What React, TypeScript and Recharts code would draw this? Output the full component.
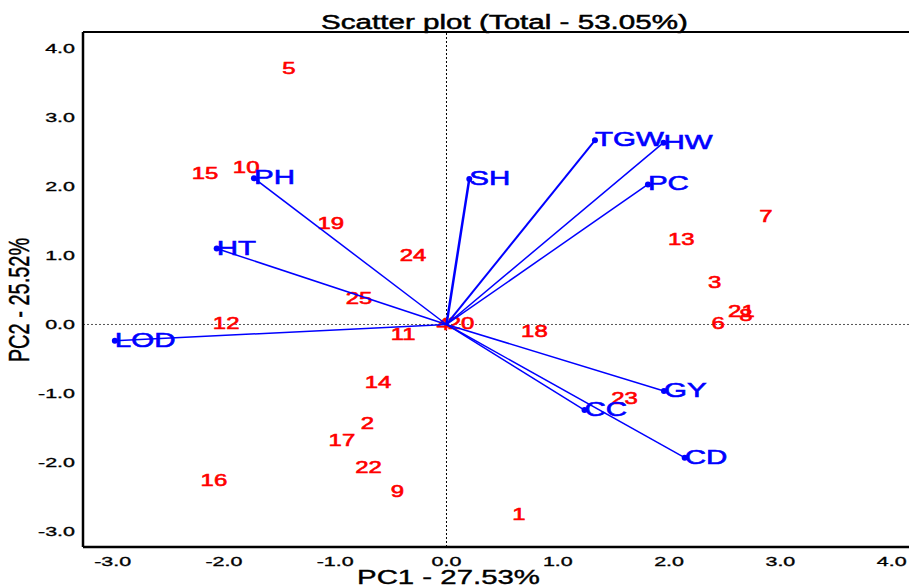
import React from 'react';
import { ScatterChart, Scatter, XAxis, YAxis, ReferenceLine } from 'recharts';

// ---- data ----
const genotypeNames = ['1','2','3','4','5','6','7','8','9','10','11','12','13','14','15','16','17','18','19','20','21','22','23','24','25'];
const genotypePC1 = [0.65,-0.71,2.41,-0.03,-1.415,2.44,2.87,2.69,-0.44,-1.80,-0.39,-1.98,2.11,-0.615,-2.17,-2.09,-0.94,0.79,-1.04,0.13,2.65,-0.70,1.60,-0.30,-0.786];
const genotypePC2 = [-2.74,-1.43,0.61,0.0,3.72,0.02,1.57,0.14,-2.41,2.28,-0.14,0.02,1.24,-0.83,2.20,-2.26,-1.68,-0.09,1.47,0.02,0.20,-2.06,-1.065,1.01,0.384];

const traitNames = ['PH','HT','LOD','SH','TGW','HW','PC','GY','CC','CD'];
const traitPC1 = [-1.73,-2.065,-2.98,0.205,1.334,1.95,1.81,1.954,1.24,2.14];
const traitPC2 = [2.12,1.10,-0.235,2.11,2.67,2.635,2.03,-0.964,-1.24,-1.93];
const traitLineWidth = [1.5,1.5,1.5,2.5,2,1.5,1.5,1.5,1.5,1.5];

const xTicks = [-3,-2,-1,0,1,2,3,4];
const yTicks = [-3,-2,-1,0,1,2,3,4];
const chartTitle = 'Scatter plot (Total - 53.05%)';
const xLabel = 'PC1 - 27.53%';
const yLabel = 'PC2 - 25.52%';

// ---- layout / style ----
const X_DOMAIN: [number, number] = [-3.266, 4.224];
const Y_DOMAIN: [number, number] = [-3.225, 4.239];
const FONT = '"Liberation Sans", Arial, Helvetica, sans-serif';
const RED = '#ff0000';
const BLUE = '#0000ff';

const genotypeData = genotypeNames.map((name, i) => ({ x: genotypePC1[i], y: genotypePC2[i], name }));
const traitSeries = traitNames.map((name, i) => ({
  name,
  width: traitLineWidth[i],
  data: [{ x: 0, y: 0, name: '' }, { x: traitPC1[i], y: traitPC2[i], name }],
}));

const GenotypeShape = (props: any) => {
  const { cx, cy, payload } = props;
  if (cx == null || cy == null) return <g />;
  return (
    <text transform={`translate(${cx},${cy}) scale(1.45,1)`} x={0} y={6} textAnchor="middle"
      fill={RED} stroke={RED} strokeWidth={0.6} fontSize={16.5} fontFamily={FONT}>{payload.name}</text>
  );
};

const TraitShape = (props: any) => {
  const { cx, cy, payload } = props;
  if (cx == null || cy == null || !payload.name) return <g />;
  return (
    <g>
      <circle cx={cx} cy={cy} r={3} fill={BLUE} />
      <text transform={`translate(${cx},${cy}) scale(1.44,1)`} x={0} y={6} textAnchor="start"
        fill={BLUE} stroke={BLUE} strokeWidth={0.6} fontSize={20.5} fontFamily={FONT}>{payload.name}</text>
    </g>
  );
};

const XTick = (props: any) => {
  const { x, y, payload } = props;
  return (
    <text transform={`translate(${x},${y}) scale(1.65,1)`} x={0} y={11} textAnchor="middle"
      fill="#000" stroke="#000" strokeWidth={0.35} fontSize={13} fontFamily={FONT}>{Number(payload.value).toFixed(1)}</text>
  );
};

const YTick = (props: any) => {
  const { x, y, payload } = props;
  return (
    <text transform={`translate(${x},${y}) scale(1.65,1)`} x={0} y={4.5} textAnchor="end"
      fill="#000" stroke="#000" strokeWidth={0.35} fontSize={13} fontFamily={FONT}>{Number(payload.value).toFixed(1)}</text>
  );
};

const TitleLabel = () => (
  <text transform={`translate(504.5,29) scale(1.41,1)`} x={0} y={0} textAnchor="middle"
    fill="#000" stroke="#000" strokeWidth={0.5} fontSize={21} fontFamily={FONT}>{chartTitle}</text>
);

const XAxisLabel = () => (
  <text transform={`translate(448.5,584) scale(1.4,1)`} x={0} y={0} textAnchor="middle"
    fill="#000" stroke="#000" strokeWidth={0.4} fontSize={21} fontFamily={FONT}>{xLabel}</text>
);

const YAxisLabel = () => (
  <text transform={`translate(29,300) scale(1.45,1) rotate(-90)`} x={0} y={0} textAnchor="middle"
    fill="#000" stroke="#000" strokeWidth={0.3} fontSize={20} fontFamily={FONT}>{yLabel}</text>
);

export default function App() {
  return (
    <div style={{ position: 'absolute', left: 0, top: 0, width: 909, height: 587, overflow: 'hidden', background: '#fff' }}>
      <ScatterChart width={940} height={587} margin={{ top: 32, right: 23.4, bottom: 0, left: 0 }}>
        <XAxis type="number" dataKey="x" domain={X_DOMAIN} ticks={xTicks} allowDataOverflow
          height={40} tickLine={false} axisLine={{ stroke: '#000', strokeWidth: 2.5 }} tick={<XTick />}
          label={{ content: <XAxisLabel /> }} />
        <YAxis type="number" dataKey="y" domain={Y_DOMAIN} ticks={yTicks} allowDataOverflow
          width={83} tickLine={false} axisLine={{ stroke: '#000', strokeWidth: 2.5 }} tick={<YTick />}
          label={{ content: <YAxisLabel /> }} />
        <ReferenceLine y={Y_DOMAIN[1]} stroke="#000" strokeWidth={2} label={{ content: <TitleLabel /> }} />
        <ReferenceLine x={0} stroke="#000" strokeDasharray="2 2" strokeWidth={1} />
        <ReferenceLine y={0} stroke="#555" strokeDasharray="2 2" strokeWidth={1} />
        <Scatter data={genotypeData} shape={<GenotypeShape />} isAnimationActive={false} />
        {traitSeries.map((t) => (
          <Scatter key={t.name} data={t.data} line={{ stroke: BLUE, strokeWidth: t.width }} lineType="joint"
            shape={<TraitShape />} isAnimationActive={false} />
        ))}
      </ScatterChart>
    </div>
  );
}
